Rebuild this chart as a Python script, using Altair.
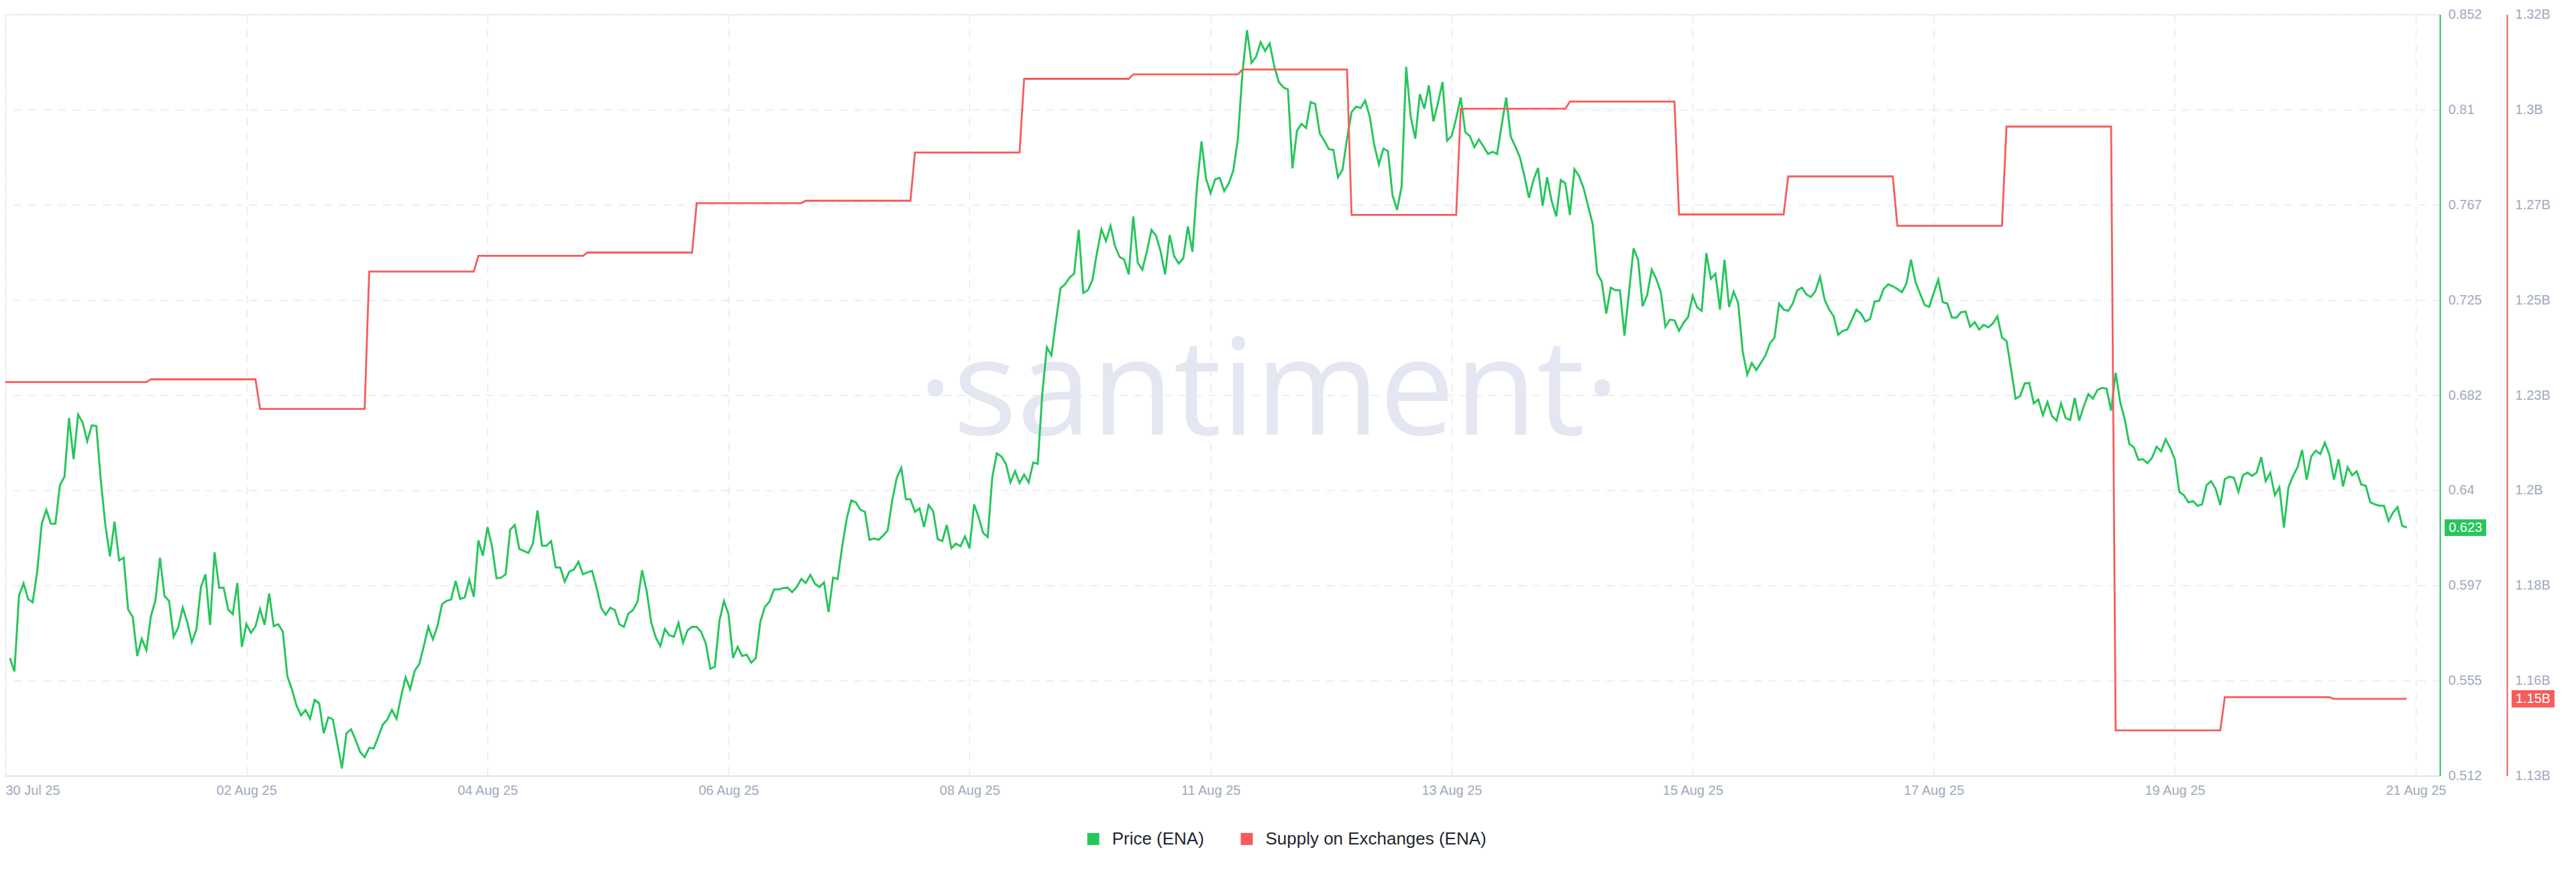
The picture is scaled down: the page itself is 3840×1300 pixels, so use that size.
import altair as alt
import numpy as np
import pandas as pd

# ---------------- data ----------------
x_tick_labels = ["30 Jul 25", "02 Aug 25", "04 Aug 25", "06 Aug 25", "08 Aug 25",
                 "11 Aug 25", "13 Aug 25", "15 Aug 25", "17 Aug 25", "19 Aug 25", "21 Aug 25"]
x_tick_hours = [0, 53, 106, 159, 212, 265, 318, 371, 424, 477, 530]
x_last_hour = 535.3

price_tick_values = [0.512, 0.5545, 0.597, 0.6395, 0.682, 0.7245, 0.767, 0.8095, 0.852]
supply_tick_values = [1.1325e9, 1.156e9, 1.1795e9, 1.203e9, 1.2265e9,
                      1.25e9, 1.2735e9, 1.297e9, 1.3205e9]

# hourly ENA price, first point = hour 1
price_first_hour = 1
price_values = [
    0.5646, 0.5586, 0.5925, 0.5980, 0.5909, 0.5895, 0.6032, 0.6246, 0.6308, 0.6246, 0.6246, 0.6418,
    0.6456, 0.6718, 0.6534, 0.6733, 0.6697, 0.6614, 0.6685, 0.6682, 0.6436, 0.6237, 0.6100, 0.6255,
    0.6082, 0.6094, 0.5862, 0.5830, 0.5655, 0.5732, 0.5681, 0.5833, 0.5904, 0.6094, 0.5922, 0.5901,
    0.5741, 0.5782, 0.5871, 0.5806, 0.5717, 0.5773, 0.5963, 0.6020, 0.5794, 0.6118, 0.5960, 0.5960,
    0.5862, 0.5842, 0.5981, 0.5696, 0.5797, 0.5758, 0.5788, 0.5865, 0.5794, 0.5934, 0.5788, 0.5797,
    0.5764, 0.5565, 0.5506, 0.5435, 0.5390, 0.5414, 0.5375, 0.5459, 0.5444, 0.5310, 0.5381, 0.5372,
    0.5263, 0.5153, 0.5310, 0.5328, 0.5280, 0.5227, 0.5203, 0.5245, 0.5242, 0.5295, 0.5349, 0.5372,
    0.5414, 0.5375, 0.5473, 0.5560, 0.5506, 0.5589, 0.5619, 0.5699, 0.5785, 0.5729, 0.5788, 0.5886,
    0.5901, 0.5907, 0.5990, 0.5910, 0.5916, 0.5996,
    0.5919, 0.6171, 0.6103, 0.6231, 0.6145, 0.6002, 0.6005, 0.6020, 0.6219, 0.6240, 0.6133, 0.6124,
    0.6115, 0.6157, 0.6305, 0.6148, 0.6148, 0.6168, 0.6050, 0.6050, 0.5987, 0.6032, 0.6041, 0.6076,
    0.6020, 0.6029, 0.6035, 0.5960, 0.5871, 0.5839, 0.5871, 0.5860, 0.5797, 0.5785, 0.5845, 0.5860,
    0.5898, 0.6038, 0.5946, 0.5806, 0.5738, 0.5699, 0.5776, 0.5747, 0.5741, 0.5803, 0.5714, 0.5770,
    0.5785, 0.5785, 0.5762, 0.5711, 0.5598, 0.5607, 0.5812, 0.5901, 0.5842, 0.5646, 0.5696, 0.5655,
    0.5661, 0.5625, 0.5646, 0.5809, 0.5874, 0.5898, 0.5952, 0.5952, 0.5958, 0.5960, 0.5940, 0.5963,
    0.5999, 0.5981, 0.6017, 0.5978, 0.5963, 0.5984, 0.5851, 0.6005, 0.5999, 0.6145, 0.6269, 0.6350,
    0.6341, 0.6308, 0.6299, 0.6174, 0.6180, 0.6174, 0.6192, 0.6216, 0.6350, 0.6451, 0.6495, 0.6355,
    0.6355, 0.6299, 0.6314, 0.6231, 0.6329, 0.6302, 0.6177, 0.6168, 0.6240, 0.6136, 0.6157, 0.6145,
    0.6189, 0.6136, 0.6332, 0.6275, 0.6204, 0.6186, 0.6454,
    0.6560, 0.6546, 0.6513, 0.6430, 0.6480, 0.6427, 0.6465, 0.6430, 0.6519, 0.6513, 0.6828, 0.7033,
    0.6997, 0.7151, 0.7297, 0.7315, 0.7345, 0.7362, 0.7558, 0.7276, 0.7288, 0.7333, 0.7454, 0.7561,
    0.7508, 0.7576, 0.7484, 0.7437, 0.7425, 0.7359, 0.7618, 0.7410, 0.7380, 0.7463, 0.7558, 0.7532,
    0.7463, 0.7359, 0.7535, 0.7440, 0.7407, 0.7431, 0.7573, 0.7460, 0.7751, 0.7953, 0.7787, 0.7722,
    0.7784, 0.7790, 0.7731, 0.7766, 0.7823, 0.7965, 0.8259, 0.8450, 0.8304, 0.8331, 0.8396, 0.8357,
    0.8390, 0.8289, 0.8218, 0.8194, 0.8185, 0.7832, 0.8001, 0.8031, 0.8013,
    0.8129, 0.8120, 0.7989, 0.7956, 0.7918, 0.7915, 0.7793, 0.7826, 0.7965, 0.8084, 0.8108, 0.8102,
    0.8135, 0.8063, 0.7936, 0.7850, 0.7921, 0.7909, 0.7713, 0.7647, 0.7751, 0.8286, 0.8063, 0.7965,
    0.8164, 0.8099, 0.8203, 0.8042, 0.8126, 0.8218, 0.7956, 0.7977, 0.8057, 0.8149, 0.7995, 0.7977,
    0.7927, 0.7962, 0.7930, 0.7897, 0.7906, 0.7897, 0.8025, 0.8149, 0.7974, 0.7930, 0.7882, 0.7799,
    0.7701, 0.7781, 0.7835, 0.7665, 0.7793, 0.7686, 0.7618, 0.7781, 0.7766, 0.7624, 0.7829, 0.7799,
    0.7745, 0.7665, 0.7585, 0.7365, 0.7327, 0.7184, 0.7300, 0.7288, 0.7288, 0.7086, 0.7280, 0.7475,
    0.7425, 0.7217,
    0.7267, 0.7380, 0.7339, 0.7279, 0.7125, 0.7157, 0.7154, 0.7107, 0.7143, 0.7169, 0.7264, 0.7211,
    0.7196, 0.7454, 0.7339, 0.7362, 0.7202, 0.7425, 0.7214, 0.7282, 0.7232, 0.7015, 0.6911, 0.6964,
    0.6932, 0.6964, 0.6997, 0.7051, 0.7077, 0.7229, 0.7202, 0.7196, 0.7229, 0.7288, 0.7300, 0.7270,
    0.7258, 0.7285, 0.7348, 0.7247, 0.7202, 0.7172, 0.7089, 0.7107, 0.7113, 0.7157, 0.7202, 0.7184,
    0.7148, 0.7160, 0.7238, 0.7241, 0.7294, 0.7315, 0.7306, 0.7294, 0.7279, 0.7318, 0.7425, 0.7324,
    0.7273, 0.7223, 0.7214, 0.7276, 0.7336, 0.7235, 0.7229, 0.7166, 0.7166, 0.7190, 0.7193, 0.7125,
    0.7146,
    0.7113, 0.7134, 0.7122, 0.7140, 0.7172, 0.7077, 0.7062, 0.6938, 0.6804, 0.6816, 0.6872, 0.6875,
    0.6783, 0.6801, 0.6730, 0.6789, 0.6727, 0.6706, 0.6783, 0.6718, 0.6709, 0.6807, 0.6706, 0.6771,
    0.6825, 0.6804, 0.6843, 0.6852, 0.6849, 0.6751, 0.6920, 0.6789, 0.6712, 0.6602, 0.6587, 0.6531,
    0.6534, 0.6516, 0.6540, 0.6590, 0.6569, 0.6623, 0.6584, 0.6534, 0.6388, 0.6373, 0.6341, 0.6347,
    0.6326, 0.6332, 0.6418, 0.6436, 0.6400, 0.6329, 0.6445, 0.6456, 0.6451, 0.6388, 0.6462, 0.6474,
    0.6459, 0.6474, 0.6543, 0.6436, 0.6474, 0.6373, 0.6409, 0.6228, 0.6409, 0.6459, 0.6498, 0.6575,
    0.6442, 0.6546, 0.6572, 0.6557, 0.6608, 0.6554, 0.6442, 0.6534, 0.6412, 0.6498, 0.6462, 0.6480,
    0.6421, 0.6415, 0.6341, 0.6332, 0.6326, 0.6326, 0.6258, 0.6296, 0.6320, 0.6237, 0.6228,
]

# supply on exchanges: one value per day (billions), with the hour each day starts
supply_day_start_hour = [0, 32, 56, 80, 104, 128, 152, 176, 200, 224, 248,
                         272, 296, 320, 344, 368, 392, 416, 440, 464, 488, 512]
supply_day_value_bn = [1.2297, 1.2304, 1.2231, 1.2570, 1.2609, 1.2617, 1.2739, 1.2745,
                       1.2864, 1.3046, 1.3057, 1.3069, 1.2710, 1.2972, 1.2990, 1.2711,
                       1.2805, 1.2683, 1.2928, 1.1437, 1.1519, 1.1515]
supply_last_hour = 528

SERIES = ["Price (ENA)", "Supply on Exchanges (ENA)"]
COLORS = ["#26c65b", "#f75b5b"]

# ---------------- tables ----------------
price_df = pd.DataFrame({
    "hour": np.arange(price_first_hour, price_first_hour + len(price_values)),
    "value": price_values,
    "series": SERIES[0],
})

rows = []
for i, start in enumerate(supply_day_start_hour):
    end = supply_day_start_hour[i + 1] - 1 if i + 1 < len(supply_day_start_hour) else supply_last_hour
    v = supply_day_value_bn[i] * 1e9
    rows.append({"hour": start, "value": v})
    rows.append({"hour": end, "value": v})
supply_df = pd.DataFrame(rows)
supply_df["series"] = SERIES[1]

price_last_df = pd.DataFrame({"value": [price_values[-1]], "label": [f"{price_values[-1]:.3f}"]})
supply_last_df = pd.DataFrame({"value": [supply_day_value_bn[-1] * 1e9],
                               "label": [f"{supply_day_value_bn[-1]:.2f}B"]})

# ---------------- style ----------------
FONT = "Liberation Sans"
LABEL = "#a0a8be"
GRID = "#e7e9f1"
BOX = "M-1,-0.4H1V0.4H-1Z"

lab_arr = "[" + ",".join(f"'{s}'" for s in x_tick_labels) + "]"
hour_arr = "[" + ",".join(str(h) for h in x_tick_hours) + "]"

x_enc = alt.X(
    "hour:Q",
    scale=alt.Scale(domain=[0, x_last_hour], nice=False, zero=False),
    axis=alt.Axis(values=x_tick_hours, labelExpr=f"{lab_arr}[indexof({hour_arr}, datum.value)]",
                  title=None, grid=True, gridDash=[12, 10], gridColor=GRID, gridWidth=1.5,
                  ticks=False, domainColor="#dfe2ec", domainWidth=2, labelFont=FONT,
                  labelFontSize=20, labelColor=LABEL, labelPadding=12, labelFlush=True,
                  labelOverlap=False),
)

color_enc = alt.Color(
    "series:N",
    scale=alt.Scale(domain=SERIES, range=COLORS),
    legend=alt.Legend(title=None, orient="none", legendX=1610, legendY=1217, direction="horizontal",
                      symbolType="square", symbolSize=81, symbolStrokeWidth=9,
                      labelFont=FONT, labelFontSize=26, labelColor="#22252f", labelLimit=0,
                      columnPadding=40, labelOffset=15),
)

y_price = alt.Y(
    "value:Q",
    scale=alt.Scale(domain=[0.512, 0.852], nice=False, zero=False),
    axis=alt.Axis(orient="right", values=price_tick_values,
                  labelExpr="format(datum.value + 1e-9, '.3~f')", title=None,
                  grid=True, gridDash=[12, 10], gridColor=GRID, gridWidth=1.5, ticks=False,
                  domainColor=COLORS[0], domainWidth=2, labelFont=FONT, labelFontSize=20,
                  labelColor=LABEL, labelPadding=12, labelOverlap=False),
)

y_supply = alt.Y(
    "value:Q",
    scale=alt.Scale(domain=[1.1325e9, 1.3205e9], nice=False, zero=False),
    axis=alt.Axis(orient="right", offset=100, values=supply_tick_values,
                  labelExpr="format(datum.value / 1e9 + 1e-9, '.2~f') + 'B'", title=None,
                  grid=False, ticks=False, domainColor=COLORS[1], domainWidth=2,
                  labelFont=FONT, labelFontSize=20, labelColor=LABEL, labelPadding=12,
                  labelOverlap=False),
)

watermark = alt.Chart(pd.DataFrame({"mark": ["·santiment·"]})).mark_text(
    font="Open Sans", fontSize=200, color="#e4e7f1",
    align="center", baseline="alphabetic",
).encode(text="mark:N", x=alt.value(1885), y=alt.value(627))

price_line = alt.Chart(price_df).mark_line(strokeWidth=3).encode(x=x_enc, y=y_price, color=color_enc)
price_box = alt.Chart(price_last_df).mark_point(
    shape=BOX, filled=True, size=62 ** 2, opacity=1, color=COLORS[0], strokeWidth=0
).encode(x=alt.value(3670), y=y_price)
price_text = alt.Chart(price_last_df).mark_text(
    font=FONT, fontSize=20, color="white", align="center", baseline="middle"
).encode(x=alt.value(3670), y=y_price, text="label:N")
price_group = alt.layer(price_line, price_box, price_text)

supply_line = alt.Chart(supply_df).mark_line(strokeWidth=2.8).encode(x=x_enc, y=y_supply, color=color_enc)
supply_box = alt.Chart(supply_last_df).mark_point(
    shape=BOX, filled=True, size=64 ** 2, opacity=1, color=COLORS[1], strokeWidth=0
).encode(x=alt.value(3771), y=y_supply)
supply_text = alt.Chart(supply_last_df).mark_text(
    font=FONT, fontSize=20, color="white", align="center", baseline="middle"
).encode(x=alt.value(3771), y=y_supply, text="label:N")
supply_group = alt.layer(supply_line, supply_box, supply_text)

chart = (
    alt.layer(watermark, price_group, supply_group)
    .resolve_scale(y="independent")
    .properties(width=3632, height=1136,
                autosize=alt.AutoSizeParams(type="none"),
                padding={"left": 0, "top": 13, "right": 195, "bottom": 125})
    .configure_view(stroke=None)
    .configure(background="white")
)

chart.save("out.html", embed_options={"renderer": "svg", "actions": False})
